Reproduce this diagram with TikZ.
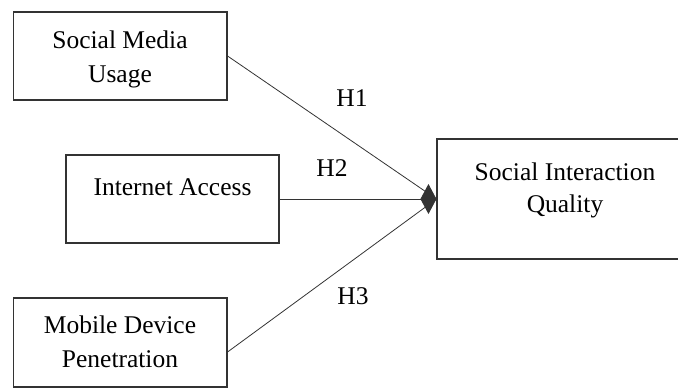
\documentclass[tikz,border=0pt]{standalone}
\usepackage{fontspec}
\setmainfont{Liberation Serif}
\usetikzlibrary{arrows.meta}
\begin{document}
\begin{tikzpicture}[x=1pt,y=-1pt,
  boxnode/.style={draw=black!80, line width=1.1pt, rectangle, inner sep=0pt},
  txt/.style={anchor=base, inner sep=0pt, font=\fontsize{25.5}{34}\selectfont},
  link/.style={draw=black!80, line width=0.8pt},
  hypo/.style={anchor=base, inner sep=0pt, font=\fontsize{25.5}{34}\selectfont}]
  \useasboundingbox (0,0) rectangle (678,388);
  \clip (0,0) rectangle (678,388);

  % construct boxes
  \node[boxnode, minimum width=213.5pt, minimum height=88pt] (smu) at (120.25,56) {};
  \node[boxnode, minimum width=213pt, minimum height=88pt] (ia) at (172.5,199) {};
  \node[boxnode, minimum width=213.5pt, minimum height=89pt] (mdp) at (120.25,342.5) {};
  \node[boxnode, minimum width=256pt, minimum height=120pt] (siq) at (565,199) {};

  % box labels
  \node[txt] (smu1) at (120,48) {Social Media};
  \node[txt] (smu2) at (120,82) {Usage};
  \node[txt] (ia1) at (172.5,195) {Internet Access};
  \node[txt] (mdp1) at (120,333) {Mobile Device};
  \node[txt] (mdp2) at (120,367.5) {Penetration};
  \node[txt] (siq1) at (565,180) {Social Interaction};
  \node[txt] (siq2) at (565,212.5) {Quality};

  % hypothesised paths
  \draw[link] (smu.east) -- (siq.west);
  \draw[link] ([yshift=-9.5pt]mdp.east) -- (siq.west);
  \draw[link, -{Diamond[length=16pt,width=30pt]}] (ia.east) -- (siq.west);

  % path labels
  \node[hypo] (h1) at (352,106) {H1};
  \node[hypo] (h2) at (332,176) {H2};
  \node[hypo] (h3) at (353,304) {H3};
\end{tikzpicture}
\end{document}
